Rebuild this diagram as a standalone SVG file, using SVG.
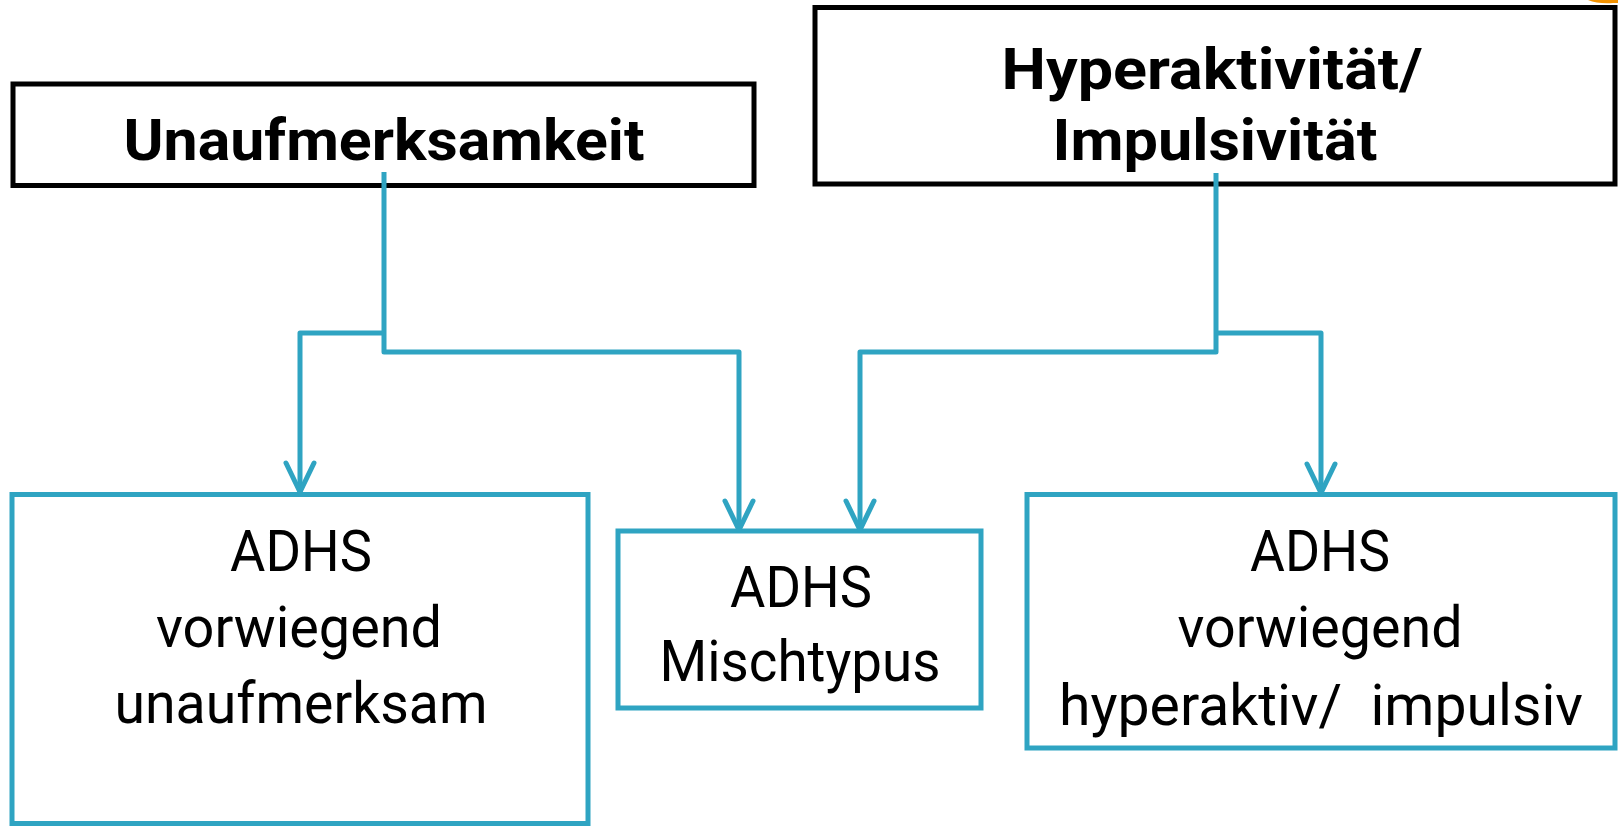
<svg xmlns="http://www.w3.org/2000/svg" width="1618" height="826" viewBox="0 0 1618 826">
  <style>
    .top { fill: #ffffff; stroke: #000000; stroke-width: 5; }
    .sub { fill: #ffffff; stroke: #2FA4C2; stroke-width: 5; }
    .t { font-family: "Liberation Sans Narrow", Roboto, "Open Sans", sans-serif; font-size: 58px; fill: #000000; text-anchor: middle; }
    .b { font-weight: bold; }
    .conn { fill: none; stroke: #2FA4C2; stroke-width: 5; stroke-linejoin: round; stroke-linecap: butt; }
    .head { fill: none; stroke: #2FA4C2; stroke-width: 5; stroke-linejoin: round; stroke-linecap: round; }
  </style>
  <defs>
    <marker id="arrow" markerUnits="userSpaceOnUse" markerWidth="60" markerHeight="60" refX="0" refY="0" orient="auto" overflow="visible" viewBox="-40 -30 60 60">
      <path class="head" d="M-29,-14 L0,0 L-29,14"/>
    </marker>
  </defs>
  <rect width="1618" height="826" fill="#ffffff"/>
  <g id="decor">
    <path d="M1588,0 Q1598,4 1613,3 L1618,3 L1618,0 Z" fill="#F39200"/>
    <path d="M1607,64 Q1610,62 1613,63 L1613,73 Q1608,70 1607,64 Z" fill="#F39200"/>
  </g>
  <g id="node-unaufmerksamkeit">
    <rect class="top" x="13" y="84" width="741" height="101.5"/>
    <text class="t b" x="384" y="160" textLength="521" lengthAdjust="spacingAndGlyphs">Unaufmerksamkeit</text>
  </g>
  <g id="node-hyperaktivitaet">
    <rect class="top" x="815" y="7.5" width="800" height="176.5"/>
    <text class="t b" x="1212" y="89" textLength="421" lengthAdjust="spacingAndGlyphs">Hyperaktivität/</text>
    <text class="t b" x="1215" y="160" textLength="325" lengthAdjust="spacingAndGlyphs">Impulsivität</text>
  </g>
  <g id="node-unaufmerksam">
    <rect class="sub" x="12" y="494.5" width="576" height="329"/>
    <text class="t" x="301" y="571" textLength="142" lengthAdjust="spacingAndGlyphs">ADHS</text>
    <text class="t" x="299" y="647" textLength="286" lengthAdjust="spacingAndGlyphs">vorwiegend</text>
    <text class="t" x="301" y="723" textLength="373" lengthAdjust="spacingAndGlyphs">unaufmerksam</text>
  </g>
  <g id="node-mischtypus">
    <rect class="sub" x="618" y="531" width="363" height="177"/>
    <text class="t" x="801" y="607" textLength="142" lengthAdjust="spacingAndGlyphs">ADHS</text>
    <text class="t" x="800" y="681" textLength="281" lengthAdjust="spacingAndGlyphs">Mischtypus</text>
  </g>
  <g id="node-hyperaktiv">
    <rect class="sub" x="1027" y="494.5" width="588" height="253.5"/>
    <text class="t" x="1320" y="571" textLength="140" lengthAdjust="spacingAndGlyphs">ADHS</text>
    <text class="t" x="1320" y="647" textLength="285" lengthAdjust="spacingAndGlyphs">vorwiegend</text>
    <text class="t" x="1321" y="725" textLength="524" lengthAdjust="spacingAndGlyphs" xml:space="preserve">hyperaktiv/  impulsiv</text>
  </g>
  <g id="connectors">
    <path class="conn" d="M384,172 V352 H739 V530" marker-end="url(#arrow)"/>
    <path class="conn" d="M384,333 H300 V492" marker-end="url(#arrow)"/>
    <path class="conn" d="M1216,173 V352 H860 V530" marker-end="url(#arrow)"/>
    <path class="conn" d="M1216,333 H1321 V493" marker-end="url(#arrow)"/>
  </g>
</svg>
